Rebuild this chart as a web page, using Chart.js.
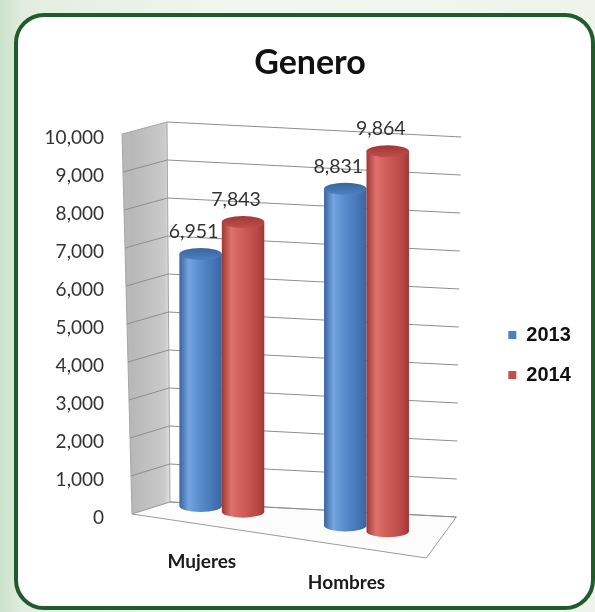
<!DOCTYPE html>
<html>
<head>
<meta charset="utf-8">
<script src="https://cdn.jsdelivr.net/npm/chart.js@4.4.1/dist/chart.umd.min.js"></script>
<style>
  html, body { margin: 0; padding: 0; }
  body {
    width: 595px; height: 612px; overflow: hidden; position: relative;
    background: linear-gradient(90deg, #cbe1cb 0%, #e2eddf 4%, #f2f6f0 40%, #eef3ec 100%);
  }
  .marco {
    position: absolute; left: 14px; top: 13px; width: 573px; height: 589px;
    border: 4px solid #1f5b2b; border-radius: 30px; background: #fff;
  }
  canvas { position: absolute; left: 0; top: 0; }
</style>
</head>
<body>
<div class="marco"></div>
<canvas id="grafico" width="595" height="612"></canvas>
<script>
// datos del grafico
const categorias = ['Mujeres', 'Hombres'];
const series = ['2013', '2014'];
const valores2013 = [6951, 8831];
const valores2014 = [7843, 9864];
const ejeMin = 0;
const ejeMax = 10000;
const ejePaso = 1000;

const colores = ['#4f81bd', '#c0504d'];
// tonos para el efecto de cilindro (borde, luz, medio, sombra, tapa)
const tonos = [
    ['#3a659f', '#73a4df', '#5b8fd0', '#4272b2', '#4d7fc0'],
    ['#9e3835', '#df706c', '#d0605c', '#b94744', '#c04d49']
];

// perspectiva aproximada del grafico 3D
function geometria(chart) {
    const a = chart.chartArea;
    const y = chart.scales.y;
    const f = v => v / y.max;
    return {
        frente: v => ({ x: a.left - 17.5 - 10 * f(v), y: y.getPixelForValue(v) - 4 }),
        fondo: v => ({ x: a.left + 20.5 - 3 * f(v), y: y.getPixelForValue(v) - 16 }),
        derecha: v => ({ x: a.right + 17.5 + 5 * f(v), y: y.getPixelForValue(v) - 1 }),
        esquina: { x: a.right - 12.5, y: y.getPixelForValue(0) + 40 },
        techo: x => (x - a.left) * 0.042 - 2,
        piso: x => y.getPixelForValue(0) + (x - a.left) * 0.135 - 13
    };
}

function cilindro(ctx, x, w, yTop, yBase, t) {
    const rx = w / 2, ry = 6;
    const izq = x - rx, der = x + rx;
    const cBase = yBase - ry;

    const g = ctx.createLinearGradient(izq, 0, der, 0);
    g.addColorStop(0, t[0]);
    g.addColorStop(0.22, t[1]);
    g.addColorStop(0.45, t[2]);
    g.addColorStop(0.85, t[3]);
    g.addColorStop(1, t[0]);

    ctx.beginPath();
    ctx.moveTo(izq, yTop);
    ctx.lineTo(izq, cBase);
    ctx.ellipse(x, cBase, rx, ry, 0, Math.PI, 0, true);
    ctx.lineTo(der, yTop);
    ctx.closePath();
    ctx.fillStyle = g;
    ctx.fill();

    // tapa superior
    const gt = ctx.createLinearGradient(0, yTop - ry, 0, yTop + ry);
    gt.addColorStop(0, t[0]);
    gt.addColorStop(1, t[4]);
    ctx.beginPath();
    ctx.ellipse(x, yTop, rx, ry, 0, 0, Math.PI * 2);
    ctx.fillStyle = gt;
    ctx.fill();
}

const escena = {
    id: 'escena',
    beforeDatasetsDraw(chart) {
        const ctx = chart.ctx;
        const g = geometria(chart);
        const ticks = chart.scales.y.ticks.map(t => t.value);
        ctx.save();

        // pared lateral
        const gp = ctx.createLinearGradient(g.frente(0).x, 0, g.fondo(0).x, 0);
        gp.addColorStop(0, '#b8b8b8');
        gp.addColorStop(0.85, '#cacaca');
        gp.addColorStop(1, '#e0e0e0');
        ctx.beginPath();
        ctx.moveTo(g.frente(ejeMax).x, g.frente(ejeMax).y);
        ctx.lineTo(g.fondo(ejeMax).x, g.fondo(ejeMax).y);
        ctx.lineTo(g.fondo(0).x, g.fondo(0).y);
        ctx.lineTo(g.frente(0).x, g.frente(0).y);
        ctx.closePath();
        ctx.fillStyle = gp;
        ctx.fill();
        ctx.strokeStyle = '#a6a6a6';
        ctx.lineWidth = 1;
        ctx.stroke();

        // piso
        ctx.beginPath();
        ctx.moveTo(g.fondo(0).x, g.fondo(0).y);
        ctx.lineTo(g.derecha(0).x, g.derecha(0).y);
        ctx.lineTo(g.esquina.x, g.esquina.y);
        ctx.lineTo(g.frente(0).x, g.frente(0).y);
        ctx.closePath();
        ctx.fillStyle = '#fcfcfc';
        ctx.fill();
        ctx.strokeStyle = '#9c9c9c';
        ctx.stroke();

        // lineas de division
        ctx.strokeStyle = '#8e8e8e';
        ticks.forEach(v => {
            const p1 = g.frente(v), p2 = g.fondo(v), p3 = g.derecha(v);
            ctx.beginPath();
            if (v > 0 && v < ejeMax) ctx.moveTo(p1.x, p1.y);
            else ctx.moveTo(p2.x, p2.y);
            ctx.lineTo(p2.x, p2.y);
            ctx.lineTo(p3.x, p3.y);
            ctx.stroke();
        });
        ctx.restore();
    },
    beforeDatasetDraw() {
        return false;
    },
    afterDatasetsDraw(chart) {
        const ctx = chart.ctx;
        const g = geometria(chart);
        ctx.save();
        const etiquetas = [];
        categorias.forEach((c, i) => {
            chart.data.datasets.forEach((ds, d) => {
                const el = chart.getDatasetMeta(d).data[i];
                const yTop = el.y + g.techo(el.x);
                cilindro(ctx, el.x, el.width, yTop, g.piso(el.x), tonos[d]);
                etiquetas.push({ x: el.x - 7, y: yTop - 22, texto: ds.data[i].toLocaleString('en-US') });
            });
        });
        ctx.font = '19.5px Lato';
        ctx.fillStyle = '#333';
        ctx.textAlign = 'center';
        ctx.textBaseline = 'middle';
        etiquetas.forEach(e => ctx.fillText(e.texto, e.x, e.y));
        ctx.restore();
    }
};

new Chart(document.getElementById('grafico'), {
    type: 'bar',
    data: {
        labels: categorias,
        datasets: [
            { label: series[0], data: valores2013, backgroundColor: colores[0], categoryPercentage: 0.587, barPercentage: 1 },
            { label: series[1], data: valores2014, backgroundColor: colores[1], categoryPercentage: 0.587, barPercentage: 1 }
        ]
    },
    options: {
        responsive: false,
        animation: false,
        layout: { padding: { left: 42.5, right: 17.5, top: 0, bottom: 0 } },
        plugins: {
            title: {
                display: true,
                text: 'Genero',
                color: '#111',
                font: { family: 'Lato', size: 34, weight: 'bold', lineHeight: 1.2 },
                padding: { top: 43, bottom: 54.2 }
            },
            legend: {
                position: 'right',
                fullSize: false,
                title: { display: true, text: '', padding: { top: 44, bottom: 0 }, font: { size: 10, lineHeight: 1 } },
                labels: {
                    boxWidth: 8,
                    boxHeight: 8,
                    padding: 20,
                    color: '#111',
                    font: { family: 'Liberation Sans', size: 20, weight: 'bold' }
                }
            },
            tooltip: { enabled: false }
        },
        scales: {
            x: {
                grid: { display: false, drawTicks: false },
                border: { display: false },
                ticks: {
                    padding: 33,
                    labelOffset: -20,
                    color: '#1a1a1a',
                    font: { family: 'Lato', size: 19, weight: 'bold', lineHeight: 1.12 },
                    callback: (v, i) => Array(i).fill('').concat(categorias[i])
                },
                afterFit: s => { s.height = 94; }
            },
            y: {
                min: ejeMin,
                max: ejeMax,
                grid: { display: false, drawTicks: false },
                border: { display: false },
                ticks: { stepSize: ejePaso, padding: 45.5, color: '#333', font: { family: 'Lato', size: 19 } },
                afterFit: s => { s.width = 107; }
            },
            y2: {
                position: 'right',
                grid: { display: false, drawTicks: false },
                border: { display: false },
                ticks: { display: false },
                afterFit: s => { s.width = 49.5; }
            }
        }
    },
    plugins: [escena]
});
</script>
</body>
</html>
